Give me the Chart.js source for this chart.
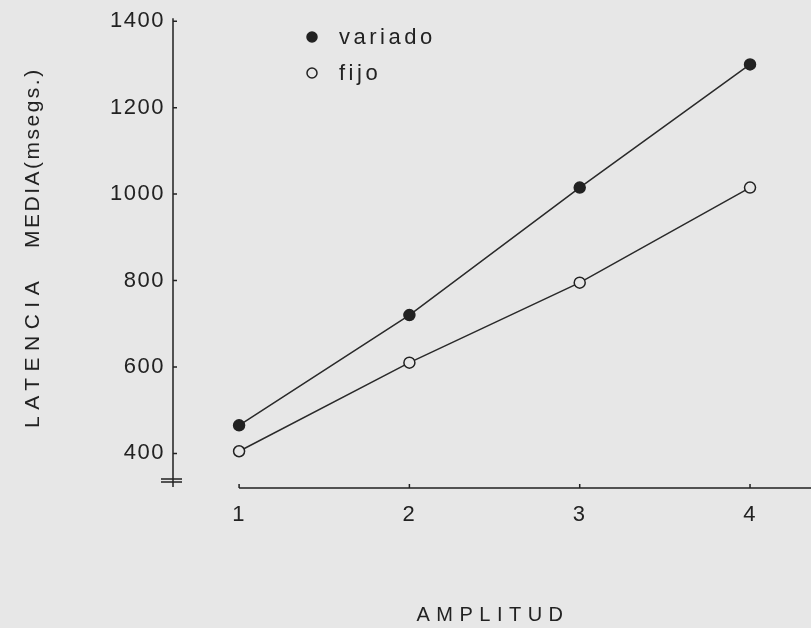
<!DOCTYPE html>
<html>
<head>
<meta charset="utf-8">
<script src="https://cdn.jsdelivr.net/npm/chart.js@4.4.0/dist/chart.umd.min.js"></script>
<style>
  html, body { margin: 0; padding: 0; background: #e7e7e7; }
  #chart { display: block; }
</style>
</head>
<body>
<canvas id="chart" width="811" height="628"></canvas>
<script>
const amplitudes = [1, 2, 3, 4]
const variado = [465, 720, 1015, 1300]
const fijo = [405, 610, 795, 1015]
const yTicks = [400, 600, 800, 1000, 1200, 1400]
const xTitle = 'AMPLITUD'
const yTitle = ['LATENCIA', 'MEDIA(msegs.)']

const ink = '#222'
const bg = '#e7e7e7'
const family = '"Liberation Sans", Arial, sans-serif'

const toPoints = values => amplitudes.map((a, i) => ({x: a, y: values[i]}))

// axes are drawn by hand: separate lines, small inner ticks, break on the y axis
const axesPlugin = {
  id: 'axes',
  beforeLayout(chart) { chart.ctx.letterSpacing = '1.5px' },
  beforeDraw(chart) { chart.ctx.letterSpacing = '1.5px' },
  beforeDatasetsDraw(chart) {
    const {ctx, chartArea, scales: {x, y}} = chart
    const ax = chartArea.left
    const by = chartArea.bottom
    ctx.save()
    ctx.strokeStyle = ink
    ctx.lineWidth = 1.5
    ctx.beginPath()
    ctx.moveTo(ax, y.getPixelForValue(yTicks[yTicks.length - 1]) - 3)
    ctx.lineTo(ax, by - 1)
    yTicks.forEach(v => {
      const py = y.getPixelForValue(v)
      ctx.moveTo(ax, py)
      ctx.lineTo(ax + 4, py)
    })
    // break mark
    ctx.moveTo(ax - 12, by - 9); ctx.lineTo(ax + 9, by - 9)
    ctx.moveTo(ax - 12, by - 6); ctx.lineTo(ax + 9, by - 6)
    // x axis starts at the first amplitude
    ctx.moveTo(x.getPixelForValue(amplitudes[0]), by)
    ctx.lineTo(chartArea.right, by)
    amplitudes.forEach(v => {
      const px = x.getPixelForValue(v)
      ctx.moveTo(px, by)
      ctx.lineTo(px, by - 4)
    })
    ctx.stroke()
    ctx.restore()
  },
  afterDraw(chart) {
    const {ctx} = chart
    ctx.save()
    ctx.fillStyle = ink

    // y title, two words with their own spacing
    ctx.textBaseline = 'middle'
    ctx.textAlign = 'left'
    ctx.font = `21px ${family}`
    ctx.save()
    ctx.translate(33, 0)
    ctx.rotate(-Math.PI / 2)
    ctx.letterSpacing = '6.5px'
    ctx.fillText(yTitle[0], -428, 0)
    ctx.letterSpacing = '2.5px'
    ctx.fillText(yTitle[1], -248, 0)
    ctx.restore()

    ctx.textAlign = 'center'
    ctx.font = `20px ${family}`
    ctx.letterSpacing = '6.5px'
    ctx.fillText(xTitle, 493, 615)

    // legend inside the plot
    ctx.textAlign = 'left'
    ctx.textBaseline = 'alphabetic'
    ctx.font = `22px ${family}`
    ctx.letterSpacing = '3.5px'
    chart.data.datasets.forEach((ds, i) => {
      const cy = 37 + i * 36
      ctx.beginPath()
      ctx.arc(312, cy, 5, 0, Math.PI * 2)
      ctx.fillStyle = ds.pointBackgroundColor
      ctx.fill()
      ctx.lineWidth = 1.5
      ctx.strokeStyle = ink
      ctx.stroke()
      ctx.fillStyle = ink
      ctx.fillText(ds.label, 339, cy + 7)
    })
    ctx.restore()
  }
}

const tickFont = {family: family, size: 22}

new Chart(document.getElementById('chart'), {
  type: 'line',
  data: {
    datasets: [
      {
        label: 'variado',
        data: toPoints(variado),
        borderColor: '#2a2a2a',
        borderWidth: 1.5,
        pointRadius: 5.5,
        pointBackgroundColor: ink,
        pointBorderColor: ink,
        pointBorderWidth: 1.5,
      },
      {
        label: 'fijo',
        data: toPoints(fijo),
        borderColor: '#2a2a2a',
        borderWidth: 1.5,
        pointRadius: 5.5,
        pointBackgroundColor: bg,
        pointBorderColor: ink,
        pointBorderWidth: 1.5,
      },
    ],
  },
  options: {
    responsive: false,
    animation: false,
    devicePixelRatio: 1,
    layout: {autoPadding: false, padding: {top: 21, left: 0, right: 0, bottom: 0}},
    plugins: {legend: {display: false}, tooltip: {enabled: false}},
    scales: {
      x: {
        type: 'linear',
        min: 0.612,
        max: 4.358,
        afterBuildTicks: s => { s.ticks = amplitudes.map(v => ({value: v})) },
        afterFit: s => { s.height = 140 },
        grid: {display: false, drawTicks: false},
        border: {display: false},
        ticks: {color: ink, font: tickFont, padding: 14, maxRotation: 0, callback: v => String(v)},
      },
      y: {
        min: 320,
        max: 1400,
        afterBuildTicks: s => { s.ticks = yTicks.map(v => ({value: v})) },
        afterFit: s => { s.width = 173 },
        grid: {display: false, drawTicks: false},
        border: {display: false},
        ticks: {color: ink, font: tickFont, padding: 8, callback: v => String(v)},
      },
    },
  },
  plugins: [axesPlugin],
})
</script>
</body>
</html>
